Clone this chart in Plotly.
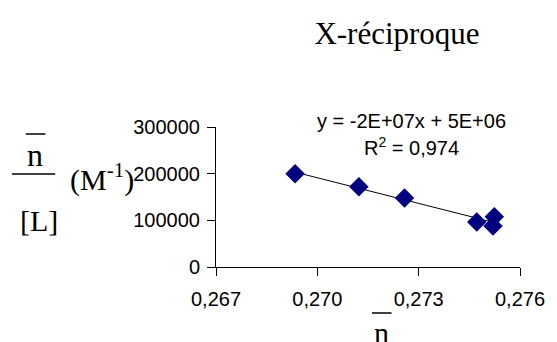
import numpy as np
import plotly.graph_objects as go

# data
n_bar = [0.26934, 0.27123, 0.27258, 0.27472, 0.27524, 0.27520]
n_over_L = [200000, 172000, 148000, 96500, 107500, 88000]
x_ticks = [0.267, 0.270, 0.273, 0.276]
y_ticks = [0, 100000, 200000, 300000]

W, H = 557, 342
L, R, T, B = 216, 31, 127, 75
pw, ph = W - L - R, H - T - B


def px(x):
    return (x - L) / pw


def py(y):
    return (H - B - y) / ph


slope, icpt = np.polyfit(n_bar, n_over_L, 1)
xs = np.array([min(n_bar), max(n_bar)])

fig = go.Figure()
fig.add_trace(go.Scatter(x=xs, y=slope * xs + icpt, mode="lines",
                         line=dict(color="black", width=1), hoverinfo="skip"))
fig.add_trace(go.Scatter(x=n_bar, y=n_over_L, mode="markers",
                         marker=dict(symbol="diamond", size=15, color="#000080")))

serif = "Liberation Serif, Times New Roman, serif"
sans = "Liberation Sans, Arial, sans-serif"

fig.update_layout(
    width=W, height=H, showlegend=False,
    margin=dict(l=L, r=R, t=T, b=B),
    paper_bgcolor="white", plot_bgcolor="white",
    separators=", ",
    font=dict(family=sans, size=20, color="black"),
    title=dict(text="X-réciproque", x=397 / W, y=1 - 33 / H,
               xanchor="center", yanchor="middle",
               font=dict(family=serif, size=31, color="black")),
)
fig.update_xaxes(range=[0.267, 0.276], tickvals=x_ticks, tickformat=".3f",
                 showgrid=False, zeroline=False, showline=True, linecolor="black",
                 ticks="outside", ticklen=8, tickcolor="black", ticklabelstandoff=6)
fig.update_yaxes(range=[0, 300000], tickvals=y_ticks, tickformat="d",
                 showgrid=False, zeroline=False, showline=True, linecolor="black",
                 ticks="outside", ticklen=8, tickcolor="black", ticklabelstandoff=3)

eq = "y = -2E+07x + 5E+06"
anns = [
    (eq, 415, 121, sans, 20),
    ("R<sup>2</sup> = 0,974", 415, 146, sans, 20),
    ("n", 31, 155, serif, 32),
    ("[L]", 36, 220, serif, 30),
    ("(M<sup>-1</sup>)", 100, 177, serif, 30),
    ("n", 385, 332, serif, 30),
]
for text, x, y, fam, sz in anns:
    fig.add_annotation(text=text, x=px(x), y=py(y), xref="paper", yref="paper",
                       showarrow=False, xanchor="center", yanchor="middle",
                       font=dict(family=fam, size=sz, color="black"))

for x0, x1, y in [(22, 42, 134), (8, 52, 174), (375, 395, 313)]:
    fig.add_shape(type="line", xref="paper", yref="paper",
                  x0=px(x0), x1=px(x1), y0=py(y), y1=py(y),
                  line=dict(color="black", width=1.5))

fig.write_html("out.html", config={"displayModeBar": False},
               post_script="document.body.style.margin='0';")
